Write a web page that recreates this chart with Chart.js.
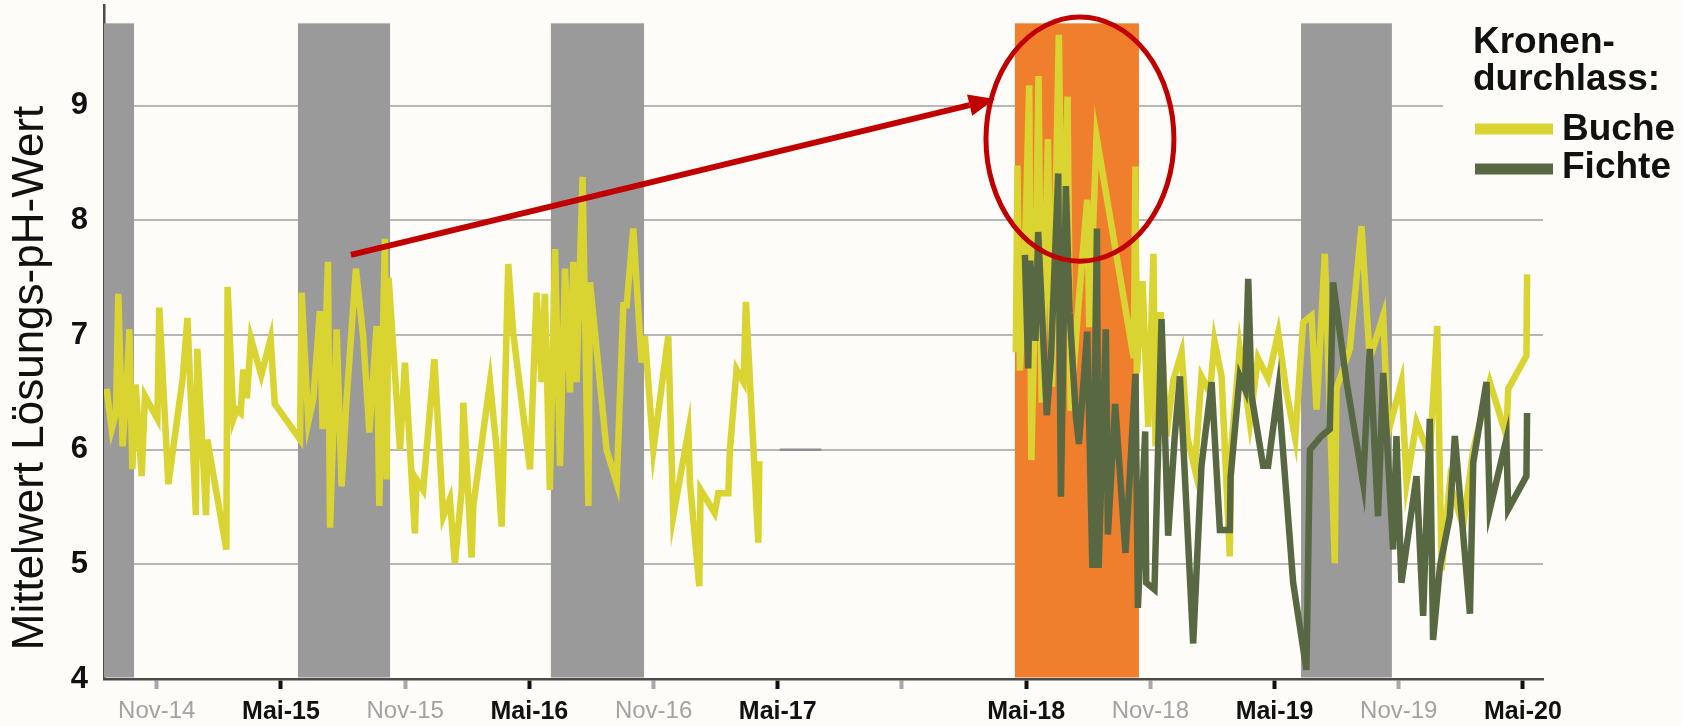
<!DOCTYPE html>
<html>
<head>
<meta charset="utf-8">
<title>Mittelwert Lösungs-pH-Wert</title>
<script src="https://cdn.jsdelivr.net/npm/chart.js"></script>
<style>
  html, body { margin: 0; padding: 0; background: #fdfcf8; }
  #wrap { width: 1682px; height: 726px; }
</style>
</head>
<body>
<div id="wrap"><canvas id="phChart" width="1682" height="726"></canvas></div>
<script>
// Data: x = months since Jan 2014 (16 = Mai-15), y = pH
const bucheData = [
  [7.58,6.53],[7.82,6.18],[8.03,6.32],[8.14,7.36],[8.35,6.03],[8.55,6.56],[8.67,7.05],[8.82,5.83],
  [8.98,6.57],[9.27,5.77],[9.43,6.47],[10.03,6.27],[10.12,7.24],[10.56,5.70],[11.25,6.62],[11.48,7.15],
  [11.89,5.43],[11.96,6.88],[12.38,5.43],[12.44,6.09],[13.36,5.13],[13.42,7.42],[13.70,6.27],[13.85,6.35],
  [14.05,6.32],[14.18,6.70],[14.35,6.45],[14.55,6.97],[15.05,6.65],[15.50,6.97],[15.70,6.40],[16.92,6.09],
  [17.00,7.37],[17.32,6.24],[17.56,6.44],[17.88,7.21],[18.01,6.18],[18.27,7.64],[18.37,5.32],[18.69,7.05],
  [18.93,5.68],[19.17,6.44],[19.62,7.58],[19.98,6.97],[20.27,6.15],[20.62,7.08],[20.75,5.51],[21.02,7.84],
  [21.10,5.74],[21.20,7.50],[21.75,6.00],[21.99,6.76],[22.47,5.27],[22.55,5.74],[22.87,5.65],[23.41,6.79],
  [23.84,5.42],[24.16,5.57],[24.40,5.01],[24.73,5.65],[24.81,6.41],[25.21,5.06],[25.29,5.51],[26.10,6.59],
  [26.42,6.00],[26.66,5.33],[26.98,7.62],[27.22,7.02],[28.03,5.83],[28.35,7.37],[28.59,6.59],[28.75,7.36],
  [28.99,5.65],[29.24,7.75],[29.48,5.86],[29.72,7.58],[29.96,6.50],[30.12,7.64],[30.28,6.59],[30.57,8.38],
  [30.85,5.51],[30.93,7.46],[31.73,6.00],[32.22,5.71],[32.54,7.26],[32.70,7.26],[33.02,7.93],[33.18,7.46],
  [33.42,6.76],[33.58,6.99],[33.99,6.00],[34.71,6.99],[34.95,5.42],[35.68,6.16],[35.76,5.71],[36.21,4.81],
  [36.27,5.65],[36.95,5.45],[37.13,5.62],[37.61,5.62],[37.69,6.00],[38.01,6.70],[38.35,6.59],[38.46,7.29],
  [39.06,5.19],[39.11,5.90],
  [45.00,null],
  [51.50,6.85],[51.58,8.48],[51.70,6.69],[51.95,7.80],[52.15,9.18],[52.25,5.91],[52.45,7.50],[52.60,9.26],
  [52.75,6.41],[53.05,8.71],[53.25,6.55],[53.58,9.62],[53.75,7.30],[54.00,9.08],[54.15,6.34],[54.50,7.20],
  [54.95,8.18],[55.05,7.07],[55.40,8.73],[57.20,6.80],[57.28,8.47],[57.35,6.67],[57.62,7.47],[57.90,6.20],
  [58.15,7.71],[58.25,6.03],[58.50,7.20],[58.78,6.12],[59.10,6.60],[59.51,6.85],[59.80,6.10],[60.15,5.83],
  [60.47,6.64],[60.88,6.50],[61.10,6.95],[61.44,6.64],[61.84,5.07],[61.90,6.00],[62.32,6.88],[62.81,6.24],
  [63.20,6.80],[63.69,6.62],[64.18,7.02],[64.58,6.50],[65.00,6.10],[65.38,7.11],[65.79,7.17],[66.03,6.35],
  [66.43,7.71],[66.91,5.01],[66.99,6.53],[67.64,6.88],[68.20,7.95],[68.60,6.79],[69.25,7.17],[69.49,6.15],
  [70.13,6.59],[70.38,5.71],[70.86,6.24],[71.50,5.94],[71.86,7.08],[72.07,4.95],[72.47,5.71],[73.11,5.33],
  [73.60,6.00],[74.40,6.59],[75.20,6.12],[75.29,6.53],[76.17,6.82],[76.20,7.53]
];

const fichteData = [
  [51.94,7.70],[52.10,6.71],[52.20,7.65],[52.45,6.95],[52.58,7.90],[53.00,6.30],[53.20,6.80],[53.55,8.41],
  [53.68,5.59],[53.92,8.30],[54.10,7.20],[54.40,6.30],[54.55,6.05],[54.95,7.03],[55.20,4.97],[55.42,7.93],
  [55.50,4.97],[55.85,7.05],[55.95,5.26],[56.30,6.40],[56.80,5.10],[57.28,6.66],[57.40,4.62],[57.75,6.16],
  [57.80,4.84],[58.20,4.78],[58.54,7.14],[58.86,5.25],[59.18,6.12],[59.43,6.64],[60.07,4.31],[60.47,5.86],
  [60.96,6.59],[61.36,5.30],[61.84,5.30],[61.88,5.77],[62.32,6.64],[62.57,6.53],[62.73,7.49],[62.89,6.47],
  [63.45,5.86],[63.69,5.86],[64.18,6.53],[64.90,4.84],[65.54,4.08],[65.71,6.00],[66.27,6.12],[66.67,6.18],
  [66.83,7.46],[67.48,6.59],[68.28,5.71],[68.60,6.88],[69.00,5.42],[69.25,6.67],[69.73,5.13],[69.89,6.12],
  [70.13,4.84],[70.86,5.77],[71.18,4.55],[71.50,6.27],[71.66,4.34],[71.99,4.98],[72.47,5.42],[72.71,6.12],
  [73.44,4.57],[73.60,5.89],[74.24,6.59],[74.40,5.48],[75.20,6.09],[75.29,5.48],[76.17,5.77],[76.20,6.32]
];

// short grey stub on the 6-line after Mai-17
const stubData = [[40.10,6.00],[42.10,6.00]];

// axis ticks
const yTicks = [4, 5, 6, 7, 8, 9];
const xTickMonths = [10, 16, 22, 28, 34, 40, 46, 52, 58, 64, 70, 76];
const xTickLabels = ['Nov-14', 'Mai-15', 'Nov-15', 'Mai-16', 'Nov-16', 'Mai-17', '', 'Mai-18', 'Nov-18', 'Mai-19', 'Nov-19', 'Mai-20'];

// shaded periods (months), the 2018 one is highlighted
const bandStart = [7.45, 16.82, 29.04, 51.46, 65.28];
const bandEnd = [8.90, 21.27, 33.54, 57.45, 69.67];
const bandHighlight = [false, false, false, true, false];
const bandTop = 9.72;

// red annotation (data units)
const arrowFrom = [19.38, 7.70];
const arrowTo = [50.49, 9.06];
const ellipseCenter = [54.60, 8.71];
const ellipseRadius = [4.54, 1.065];

// Styles
const FONT = "'Liberation Sans', Arial, sans-serif";
const BG = '#fdfcf8';
const BUCHE = '#d9d431';
const FICHTE = '#586842';
const GREY_BAND = '#9a9a9a';
const ORANGE_BAND = '#ef7f2d';
const RED = '#c00000';

const toXY = arr => arr.map(p => ({ x: p[0], y: p[1] }));
const isMai = i => xTickLabels[i] && xTickLabels[i].startsWith('Mai');

// Background + shaded periods
const bandsPlugin = {
    id: 'bands',
    beforeDraw(chart) {
        const ctx = chart.ctx;
        ctx.save();
        ctx.fillStyle = BG;
        ctx.fillRect(0, 0, chart.width, chart.height);
        ctx.restore();
    },
    beforeDatasetsDraw(chart) {
        const { ctx, scales: { x, y } } = chart;
        ctx.save();
        bandStart.forEach((start, i) => {
            const left = x.getPixelForValue(start);
            const right = x.getPixelForValue(bandEnd[i]);
            const top = y.getPixelForValue(bandTop);
            const bottom = y.getPixelForValue(y.min) - 1.5;
            ctx.fillStyle = bandHighlight[i] ? ORANGE_BAND : GREY_BAND;
            ctx.fillRect(left, top, right - left, bottom - top);
        });
        ctx.restore();
    }
};

// Arrow and ellipse
const annotationPlugin = {
    id: 'annot',
    afterDatasetsDraw(chart) {
        const { ctx, scales: { x, y } } = chart;
        const x1 = x.getPixelForValue(arrowFrom[0]), y1 = y.getPixelForValue(arrowFrom[1]);
        const x2 = x.getPixelForValue(arrowTo[0]), y2 = y.getPixelForValue(arrowTo[1]);
        const ang = Math.atan2(y2 - y1, x2 - x1);
        const headLen = 26, headHalf = 11;
        ctx.save();
        ctx.strokeStyle = RED;
        ctx.fillStyle = RED;
        ctx.lineWidth = 6;
        ctx.beginPath();
        ctx.moveTo(x1, y1);
        ctx.lineTo(x2 - headLen * Math.cos(ang), y2 - headLen * Math.sin(ang));
        ctx.stroke();
        ctx.beginPath();
        ctx.moveTo(x2, y2);
        ctx.lineTo(x2 - headLen * Math.cos(ang) + headHalf * Math.sin(ang), y2 - headLen * Math.sin(ang) - headHalf * Math.cos(ang));
        ctx.lineTo(x2 - headLen * Math.cos(ang) - headHalf * Math.sin(ang), y2 - headLen * Math.sin(ang) + headHalf * Math.cos(ang));
        ctx.closePath();
        ctx.fill();

        const cx = x.getPixelForValue(ellipseCenter[0]);
        const cy = y.getPixelForValue(ellipseCenter[1]);
        const rx = x.getPixelForValue(ellipseCenter[0] + ellipseRadius[0]) - cx;
        const ry = cy - y.getPixelForValue(ellipseCenter[1] + ellipseRadius[1]);
        ctx.lineWidth = 5;
        ctx.beginPath();
        ctx.ellipse(cx, cy, rx, ry, 0, 0, Math.PI * 2);
        ctx.stroke();
        ctx.restore();
    }
};

// Axis title and legend block
const textPlugin = {
    id: 'texts',
    afterDraw(chart) {
        const ctx = chart.ctx;
        ctx.save();
        // y title
        ctx.translate(43, 378);
        ctx.rotate(-Math.PI / 2);
        ctx.fillStyle = '#111';
        ctx.font = `44px ${FONT}`;
        ctx.textAlign = 'center';
        ctx.textBaseline = 'alphabetic';
        ctx.fillText('Mittelwert Lösungs-pH-Wert', 0, 0);
        ctx.restore();

        ctx.save();
        ctx.fillStyle = BG;
        ctx.fillRect(1443, 0, chart.width - 1443, 196);
        ctx.fillStyle = '#111';
        ctx.font = `bold 37px ${FONT}`;
        ctx.textAlign = 'left';
        ctx.textBaseline = 'alphabetic';
        ctx.fillText('Kronen-', 1473, 53);
        ctx.fillText('durchlass:', 1473, 90);
        ctx.lineWidth = 11;
        ctx.strokeStyle = BUCHE;
        ctx.beginPath(); ctx.moveTo(1475, 129); ctx.lineTo(1553, 129); ctx.stroke();
        ctx.strokeStyle = FICHTE;
        ctx.beginPath(); ctx.moveTo(1475, 169); ctx.lineTo(1553, 169); ctx.stroke();
        ctx.fillText('Buche', 1562, 140);
        ctx.fillText('Fichte', 1562, 178);
        ctx.restore();
    }
};

function createChart() {
    const ctx = document.getElementById('phChart');
    return new Chart(ctx, {
        type: 'line',
        data: {
            datasets: [
                {
                    label: 'Fichte',
                    data: toXY(fichteData),
                    borderColor: FICHTE,
                    borderWidth: 6.5,
                    pointRadius: 0,
                    tension: 0,
                    borderJoinStyle: 'miter',
                    spanGaps: false
                },
                {
                    label: 'Buche',
                    data: toXY(bucheData),
                    borderColor: BUCHE,
                    borderWidth: 6.5,
                    pointRadius: 0,
                    tension: 0,
                    borderJoinStyle: 'miter',
                    spanGaps: false
                },
                {
                    label: 'stub',
                    data: toXY(stubData),
                    borderColor: '#8e8e8e',
                    borderWidth: 2.5,
                    pointRadius: 0
                }
            ]
        },
        options: {
            responsive: false,
            animation: false,
            devicePixelRatio: 1,
            layout: { padding: { top: 5, right: 139, left: 0, bottom: 0 } },
            plugins: {
                legend: { display: false },
                tooltip: { enabled: false }
            },
            scales: {
                x: {
                    type: 'linear',
                    min: 7.45,
                    max: 76.97,
                    afterBuildTicks: s => { s.ticks = xTickMonths.map(v => ({ value: v })); },
                    afterFit: s => {
                        s.height = 47;
                        s.paddingLeft = 0;
                        s.paddingRight = 0;
                    },
                    grid: {
                        drawOnChartArea: false,
                        drawTicks: true,
                        tickLength: 10,
                        tickWidth: 4,
                        tickColor: c => isMai(c.index) ? '#111' : '#a8a8a8'
                    },
                    border: { display: true, color: '#4a4a4a', width: 2.5 },
                    ticks: {
                        autoSkip: false,
                        maxRotation: 0,
                        padding: 8,
                        callback: (v, i) => xTickLabels[i],
                        color: c => isMai(c.index) ? '#111' : '#a3a3a3',
                        font: c => isMai(c.index)
                            ? { family: FONT, size: 25, weight: 'bold' }
                            : { family: FONT, size: 24, weight: 'normal' }
                    }
                },
                y: {
                    min: 4,
                    max: 9.88,
                    afterBuildTicks: s => { s.ticks = yTicks.map(v => ({ value: v })); },
                    afterFit: s => {
                        s.width = 104;
                        s.paddingTop = 0;
                        s.paddingBottom = 0;
                    },
                    grid: {
                        drawTicks: false,
                        lineWidth: 2,
                        color: c => (c.tick && c.tick.value === 4) ? 'rgba(0,0,0,0)' : '#b7b7b7'
                    },
                    border: { display: true, color: '#4a4a4a', width: 2.5 },
                    ticks: {
                        padding: 16,
                        color: '#111',
                        font: { family: FONT, size: 31, weight: 'bold' }
                    }
                }
            }
        },
        plugins: [bandsPlugin, annotationPlugin, textPlugin]
    });
}

createChart();
</script>
</body>
</html>
